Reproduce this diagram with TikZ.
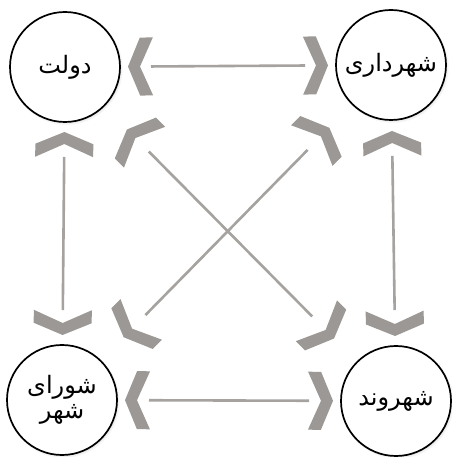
\documentclass[tikz,border=0pt]{standalone}
\usepackage{fontspec}
\newfontfamily\arabicfont[Script=Arabic]{DejaVu Sans}
\TeXXeTstate=1
\usetikzlibrary{calc,shadows}
\definecolor{chevgray}{RGB}{155,152,149}
\definecolor{linegray}{RGB}{165,162,159}
\newcommand\chv[3]{%
  \path let \p1=($(#1)-(#2)$), \n1={atan2(\y1,\x1)} in
    ($(#1)!#3!(#2)$) pic[rotate=\n1] {chevron};}
\newcommand\link[3]{%
  \draw[connector] ($(#1)!#3!(#2)$) -- ($(#2)!#3!(#1)$);}
\begin{document}
\begin{tikzpicture}[x=1pt,y=1pt,
  actor/.style={circle, draw=black, line width=1.7pt, fill=white,
    minimum size=110pt, inner sep=0pt, align=center,
    circular drop shadow={shadow xshift=1.2pt, shadow yshift=-1.5pt, shadow scale=1.03, opacity=0.4},
    font=\arabicfont\fontsize{24}{29}\selectfont},
  connector/.style={draw=linegray, line width=2.6pt},
  chevron/.pic={\fill[chevgray] (0,0) -- (-12,29) -- (-25,29) -- (-12,0) -- (-25,-29) -- (-12,-29) -- cycle;}
]
\useasboundingbox (0,0) rectangle (451,457);
\node[actor] (dolat) at (65,390) {\beginR دولت\endR};
\node[actor] (shahrdari) at (391,392) {\beginR شهرداری\endR};
\node[actor] (shora) at (62,57) {\beginR شورای\endR\\[-4pt]\beginR شهر\endR};
\node[actor] (shahrvand) at (396,56) {\beginR شهروند\endR};
% horizontal
\link{dolat}{shahrdari}{86pt}
\chv{dolat}{shahrdari}{63pt}
\chv{shahrdari}{dolat}{63pt}
\link{shora}{shahrvand}{87pt}
\chv{shora}{shahrvand}{63pt}
\chv{shahrvand}{shora}{63pt}
% vertical
\link{dolat}{shora}{90pt}
\chv{dolat}{shora}{65pt}
\chv{shora}{dolat}{65pt}
\link{shahrdari}{shahrvand}{91pt}
\chv{shahrdari}{shahrvand}{66pt}
\chv{shahrvand}{shahrdari}{65pt}
% diagonals
\link{dolat}{shahrvand}{119pt}
\chv{dolat}{shahrvand}{88pt}
\chv{shahrvand}{dolat}{88pt}
\link{shora}{shahrdari}{119pt}
\chv{shora}{shahrdari}{88pt}
\chv{shahrdari}{shora}{88pt}
\end{tikzpicture}
\end{document}
